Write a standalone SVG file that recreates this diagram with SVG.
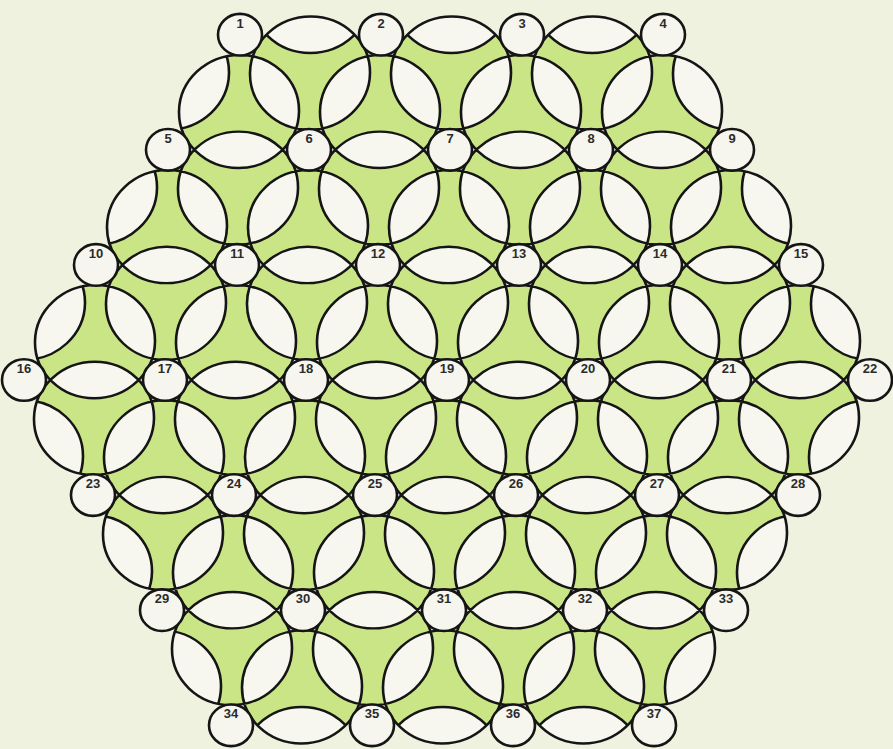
<svg xmlns="http://www.w3.org/2000/svg" width="893" height="749" viewBox="0 0 893 749">
<style>
.ln{fill:none;stroke:#151515;stroke-width:2.6;vector-effect:non-scaling-stroke}
.nd ellipse{fill:#f6f6ef;stroke:#151515;stroke-width:2.6}
.nd text{font-family:"Liberation Sans",Arial,sans-serif;font-weight:bold;font-size:13px;fill:#2b2b2b;text-anchor:middle}
</style>
<defs>
<path id="inner" d="M-271.5 -284.92a60 60 0 1 0 120 0a60 60 0 1 0-120 0zM-130.5 -284.92a60 60 0 1 0 120 0a60 60 0 1 0-120 0zM10.5 -284.92a60 60 0 1 0 120 0a60 60 0 1 0-120 0zM151.5 -284.92a60 60 0 1 0 120 0a60 60 0 1 0-120 0z
M-201 -325.63a60 60 0 1 0 120 0a60 60 0 1 0-120 0zM-60 -325.63a60 60 0 1 0 120 0a60 60 0 1 0-120 0zM81 -325.63a60 60 0 1 0 120 0a60 60 0 1 0-120 0z
M-342 -162.81a60 60 0 1 0 120 0a60 60 0 1 0-120 0zM-201 -162.81a60 60 0 1 0 120 0a60 60 0 1 0-120 0zM-60 -162.81a60 60 0 1 0 120 0a60 60 0 1 0-120 0zM81 -162.81a60 60 0 1 0 120 0a60 60 0 1 0-120 0zM222 -162.81a60 60 0 1 0 120 0a60 60 0 1 0-120 0z
M-271.5 -203.52a60 60 0 1 0 120 0a60 60 0 1 0-120 0zM-130.5 -203.52a60 60 0 1 0 120 0a60 60 0 1 0-120 0zM10.5 -203.52a60 60 0 1 0 120 0a60 60 0 1 0-120 0zM151.5 -203.52a60 60 0 1 0 120 0a60 60 0 1 0-120 0z
M-412.5 -40.7a60 60 0 1 0 120 0a60 60 0 1 0-120 0zM-271.5 -40.7a60 60 0 1 0 120 0a60 60 0 1 0-120 0zM-130.5 -40.7a60 60 0 1 0 120 0a60 60 0 1 0-120 0zM10.5 -40.7a60 60 0 1 0 120 0a60 60 0 1 0-120 0zM151.5 -40.7a60 60 0 1 0 120 0a60 60 0 1 0-120 0zM292.5 -40.7a60 60 0 1 0 120 0a60 60 0 1 0-120 0z
M-342 -81.41a60 60 0 1 0 120 0a60 60 0 1 0-120 0zM-201 -81.41a60 60 0 1 0 120 0a60 60 0 1 0-120 0zM-60 -81.41a60 60 0 1 0 120 0a60 60 0 1 0-120 0zM81 -81.41a60 60 0 1 0 120 0a60 60 0 1 0-120 0zM222 -81.41a60 60 0 1 0 120 0a60 60 0 1 0-120 0z
M-412.5 40.7a60 60 0 1 0 120 0a60 60 0 1 0-120 0zM-271.5 40.7a60 60 0 1 0 120 0a60 60 0 1 0-120 0zM-130.5 40.7a60 60 0 1 0 120 0a60 60 0 1 0-120 0zM10.5 40.7a60 60 0 1 0 120 0a60 60 0 1 0-120 0zM151.5 40.7a60 60 0 1 0 120 0a60 60 0 1 0-120 0zM292.5 40.7a60 60 0 1 0 120 0a60 60 0 1 0-120 0z
M-342 81.41a60 60 0 1 0 120 0a60 60 0 1 0-120 0zM-201 81.41a60 60 0 1 0 120 0a60 60 0 1 0-120 0zM-60 81.41a60 60 0 1 0 120 0a60 60 0 1 0-120 0zM81 81.41a60 60 0 1 0 120 0a60 60 0 1 0-120 0zM222 81.41a60 60 0 1 0 120 0a60 60 0 1 0-120 0z
M-342 162.81a60 60 0 1 0 120 0a60 60 0 1 0-120 0zM-201 162.81a60 60 0 1 0 120 0a60 60 0 1 0-120 0zM-60 162.81a60 60 0 1 0 120 0a60 60 0 1 0-120 0zM81 162.81a60 60 0 1 0 120 0a60 60 0 1 0-120 0zM222 162.81a60 60 0 1 0 120 0a60 60 0 1 0-120 0z
M-271.5 203.52a60 60 0 1 0 120 0a60 60 0 1 0-120 0zM-130.5 203.52a60 60 0 1 0 120 0a60 60 0 1 0-120 0zM10.5 203.52a60 60 0 1 0 120 0a60 60 0 1 0-120 0zM151.5 203.52a60 60 0 1 0 120 0a60 60 0 1 0-120 0z
M-271.5 284.92a60 60 0 1 0 120 0a60 60 0 1 0-120 0zM-130.5 284.92a60 60 0 1 0 120 0a60 60 0 1 0-120 0zM10.5 284.92a60 60 0 1 0 120 0a60 60 0 1 0-120 0zM151.5 284.92a60 60 0 1 0 120 0a60 60 0 1 0-120 0z
M-201 325.63a60 60 0 1 0 120 0a60 60 0 1 0-120 0zM-60 325.63a60 60 0 1 0 120 0a60 60 0 1 0-120 0zM81 325.63a60 60 0 1 0 120 0a60 60 0 1 0-120 0z"/>
<path id="outer" d="M-201 -407.03a60 60 0 1 0 120 0a60 60 0 1 0-120 0zM-60 -407.03a60 60 0 1 0 120 0a60 60 0 1 0-120 0zM81 -407.03a60 60 0 1 0 120 0a60 60 0 1 0-120 0z
M-201 407.03a60 60 0 1 0 120 0a60 60 0 1 0-120 0zM-60 407.03a60 60 0 1 0 120 0a60 60 0 1 0-120 0zM81 407.03a60 60 0 1 0 120 0a60 60 0 1 0-120 0z
M-342 -325.63a60 60 0 1 0 120 0a60 60 0 1 0-120 0zM-412.5 -203.52a60 60 0 1 0 120 0a60 60 0 1 0-120 0zM-483 -81.41a60 60 0 1 0 120 0a60 60 0 1 0-120 0zM-483 81.41a60 60 0 1 0 120 0a60 60 0 1 0-120 0zM-412.5 203.52a60 60 0 1 0 120 0a60 60 0 1 0-120 0zM-342 325.63a60 60 0 1 0 120 0a60 60 0 1 0-120 0z
M222 -325.63a60 60 0 1 0 120 0a60 60 0 1 0-120 0zM292.5 -203.52a60 60 0 1 0 120 0a60 60 0 1 0-120 0zM363 -81.41a60 60 0 1 0 120 0a60 60 0 1 0-120 0zM363 81.41a60 60 0 1 0 120 0a60 60 0 1 0-120 0zM292.5 203.52a60 60 0 1 0 120 0a60 60 0 1 0-120 0zM222 325.63a60 60 0 1 0 120 0a60 60 0 1 0-120 0z"/>
<clipPath id="ci"><use href="#inner"/></clipPath>
</defs>
<rect width="893" height="749" fill="#eef2de"/>
<g id="pattern" transform="matrix(1 0 -0.012284 0.9425 447 380)">
<g id="gaps" fill="#f7f7f0">
<circle cx="-141" cy="-244.22" r="27"/><circle cx="0" cy="-244.22" r="27"/><circle cx="141" cy="-244.22" r="27"/>
<circle cx="-211.5" cy="-122.11" r="27"/><circle cx="-70.5" cy="-122.11" r="27"/><circle cx="70.5" cy="-122.11" r="27"/><circle cx="211.5" cy="-122.11" r="27"/>
<circle cx="-282" cy="0" r="27"/><circle cx="-141" cy="0" r="27"/><circle cx="0" cy="0" r="27"/><circle cx="141" cy="0" r="27"/><circle cx="282" cy="0" r="27"/>
<circle cx="-211.5" cy="122.11" r="27"/><circle cx="-70.5" cy="122.11" r="27"/><circle cx="70.5" cy="122.11" r="27"/><circle cx="211.5" cy="122.11" r="27"/>
<circle cx="-141" cy="244.22" r="27"/><circle cx="0" cy="244.22" r="27"/><circle cx="141" cy="244.22" r="27"/>
</g>
<use href="#inner" fill="#f7f7f0"/>
<use href="#inner" fill="#c9e585" fill-rule="evenodd"/>
<use href="#outer" fill="#f7f7f0" clip-path="url(#ci)"/>
<use href="#inner" class="ln"/>
<use href="#outer" class="ln" clip-path="url(#ci)"/>
</g>
<g id="nodes">
<g id="n1" class="nd"><ellipse cx="240" cy="34.7" rx="22" ry="20.8"/><text x="240" y="27.7">1</text></g>
<g id="n2" class="nd"><ellipse cx="381" cy="34.7" rx="22" ry="20.8"/><text x="381" y="27.7">2</text></g>
<g id="n3" class="nd"><ellipse cx="522" cy="34.7" rx="22" ry="20.8"/><text x="522" y="27.7">3</text></g>
<g id="n4" class="nd"><ellipse cx="663" cy="34.7" rx="22" ry="20.8"/><text x="663" y="27.7">4</text></g>
<g id="n5" class="nd"><ellipse cx="168" cy="149.8" rx="22" ry="20.8"/><text x="168" y="142.8">5</text></g>
<g id="n6" class="nd"><ellipse cx="309" cy="149.8" rx="22" ry="20.8"/><text x="309" y="142.8">6</text></g>
<g id="n7" class="nd"><ellipse cx="450" cy="149.8" rx="22" ry="20.8"/><text x="450" y="142.8">7</text></g>
<g id="n8" class="nd"><ellipse cx="591" cy="149.8" rx="22" ry="20.8"/><text x="591" y="142.8">8</text></g>
<g id="n9" class="nd"><ellipse cx="732" cy="149.8" rx="22" ry="20.8"/><text x="732" y="142.8">9</text></g>
<g id="n10" class="nd"><ellipse cx="96" cy="264.9" rx="22" ry="20.8"/><text x="96" y="257.9">10</text></g>
<g id="n11" class="nd"><ellipse cx="237" cy="264.9" rx="22" ry="20.8"/><text x="237" y="257.9">11</text></g>
<g id="n12" class="nd"><ellipse cx="378" cy="264.9" rx="22" ry="20.8"/><text x="378" y="257.9">12</text></g>
<g id="n13" class="nd"><ellipse cx="519" cy="264.9" rx="22" ry="20.8"/><text x="519" y="257.9">13</text></g>
<g id="n14" class="nd"><ellipse cx="660" cy="264.9" rx="22" ry="20.8"/><text x="660" y="257.9">14</text></g>
<g id="n15" class="nd"><ellipse cx="801" cy="264.9" rx="22" ry="20.8"/><text x="801" y="257.9">15</text></g>
<g id="n16" class="nd"><ellipse cx="24" cy="380" rx="22" ry="20.8"/><text x="24" y="373">16</text></g>
<g id="n17" class="nd"><ellipse cx="165" cy="380" rx="22" ry="20.8"/><text x="165" y="373">17</text></g>
<g id="n18" class="nd"><ellipse cx="306" cy="380" rx="22" ry="20.8"/><text x="306" y="373">18</text></g>
<g id="n19" class="nd"><ellipse cx="447" cy="380" rx="22" ry="20.8"/><text x="447" y="373">19</text></g>
<g id="n20" class="nd"><ellipse cx="588" cy="380" rx="22" ry="20.8"/><text x="588" y="373">20</text></g>
<g id="n21" class="nd"><ellipse cx="729" cy="380" rx="22" ry="20.8"/><text x="729" y="373">21</text></g>
<g id="n22" class="nd"><ellipse cx="870" cy="380" rx="22" ry="20.8"/><text x="870" y="373">22</text></g>
<g id="n23" class="nd"><ellipse cx="93" cy="495.1" rx="22" ry="20.8"/><text x="93" y="488.1">23</text></g>
<g id="n24" class="nd"><ellipse cx="234" cy="495.1" rx="22" ry="20.8"/><text x="234" y="488.1">24</text></g>
<g id="n25" class="nd"><ellipse cx="375" cy="495.1" rx="22" ry="20.8"/><text x="375" y="488.1">25</text></g>
<g id="n26" class="nd"><ellipse cx="516" cy="495.1" rx="22" ry="20.8"/><text x="516" y="488.1">26</text></g>
<g id="n27" class="nd"><ellipse cx="657" cy="495.1" rx="22" ry="20.8"/><text x="657" y="488.1">27</text></g>
<g id="n28" class="nd"><ellipse cx="798" cy="495.1" rx="22" ry="20.8"/><text x="798" y="488.1">28</text></g>
<g id="n29" class="nd"><ellipse cx="162" cy="610.2" rx="22" ry="20.8"/><text x="162" y="603.2">29</text></g>
<g id="n30" class="nd"><ellipse cx="303" cy="610.2" rx="22" ry="20.8"/><text x="303" y="603.2">30</text></g>
<g id="n31" class="nd"><ellipse cx="444" cy="610.2" rx="22" ry="20.8"/><text x="444" y="603.2">31</text></g>
<g id="n32" class="nd"><ellipse cx="585" cy="610.2" rx="22" ry="20.8"/><text x="585" y="603.2">32</text></g>
<g id="n33" class="nd"><ellipse cx="726" cy="610.2" rx="22" ry="20.8"/><text x="726" y="603.2">33</text></g>
<g id="n34" class="nd"><ellipse cx="231" cy="725.3" rx="22" ry="20.8"/><text x="231" y="718.3">34</text></g>
<g id="n35" class="nd"><ellipse cx="372" cy="725.3" rx="22" ry="20.8"/><text x="372" y="718.3">35</text></g>
<g id="n36" class="nd"><ellipse cx="513" cy="725.3" rx="22" ry="20.8"/><text x="513" y="718.3">36</text></g>
<g id="n37" class="nd"><ellipse cx="654" cy="725.3" rx="22" ry="20.8"/><text x="654" y="718.3">37</text></g>
</g>
</svg>
